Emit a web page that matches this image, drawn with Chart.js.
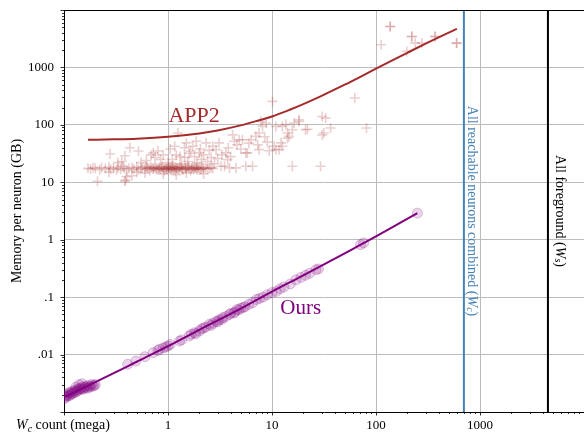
<!DOCTYPE html>
<html><head><meta charset="utf-8">
<script src="https://cdn.jsdelivr.net/npm/chart.js@4/dist/chart.umd.min.js"></script>
<style>html,body{margin:0;padding:0;background:#fff;overflow:hidden}#wrap{width:584px;height:434px;position:relative}</style>
</head><body><div id="wrap"><canvas id="c"></canvas></div>
<script>
// ---- axis ranges and ticks ----
const xMin = 0.1, xMax = 10000, yMin = 0.001, yMax = 10000;
const xTickValues = [1, 10, 100, 1000];
const xTickLabels = ['1', '10', '100', '1000'];
const yTickValues = [0.01, 0.1, 1, 10, 100, 1000];
const yTickLabels = ['.01', '.1', '1', '10', '100', '1000'];

// ---- reference lines ----
const reachableWc = 700;   // all reachable neurons combined (W_c)
const foregroundWs = 4500; // all foreground (W_s)

// ---- APP2 measurements (crosses) ----
const app2X = [
 0.17,0.18,0.19,0.2,0.22,0.23,0.25,0.27,0.28,0.3,0.32,0.33,0.35,0.37,0.38,0.4,0.42,0.45,0.47,0.5,
 0.52,0.55,0.57,0.6,0.62,0.65,0.67,0.7,0.72,0.75,0.78,0.8,0.82,0.85,0.88,0.9,0.92,0.95,0.97,1.0,
 1.02,1.05,1.08,1.1,1.12,1.15,1.18,1.2,1.25,1.3,1.35,1.4,1.45,1.5,1.55,1.6,1.65,1.7,1.75,1.8,
 1.85,1.9,2.0,2.1,2.2,2.3,2.4,2.5,2.6,2.7,
 0.63,0.68,0.73,0.77,0.83,0.87,0.93,0.98,1.03,1.07,1.13,1.17,1.22,1.28,1.33,1.38,1.48,1.58,1.68,1.78,
 1.88,1.95,2.05,2.15,
 0.21,0.385,0.39,0.4,0.45,0.6,0.9,1.2,1.5,2.2,0.27,0.5,
 0.277,0.33,0.36,0.385,0.43,0.52,0.55,0.62,0.69,0.72,0.75,0.8,0.85,0.9,1.0,1.05,1.16,1.25,1.3,1.44,
 1.5,1.6,1.73,1.87,2.0,2.1,2.33,2.5,2.7,2.9,3.1,3.24,3.5,3.6,3.75,3.9,4.18,4.35,4.5,4.85,
 5.2,5.6,5.6,5.8,6.5,7.0,7.3,7.5,7.5,7.8,8.1,8.8,9.4,10.1,10.5,10.9,10.9,11.7,12.2,12.6,
 12.6,13.6,14.1,14.1,14.6,15.7,15.7,16.3,18.2,18.2,21,21.9,29.3,30.4,30.4,31.5,32.8,36.6,62.5,81,
 112,137,137,198,221,221,238,276,370,370,596,596,
 1.1,1.2,1.35,1.45,1.55,1.65,1.8,1.9,2.05,2.2,2.4,2.6,2.8,3.0,3.3,3.8,4.0,4.6,5.0,6.0,6.3,8.5,9.0
];
const app2Y = [
 17.5,17,18,17.5,16.5,18,17.5,18.5,17,17.5,16.5,18,17,19,17.5,16,17.5,18,17,18.5,
 16.5,17.5,18,17,19,17.5,16,18,17,18.5,17.5,16.5,18,17,19,17.5,16,18,17,18.5,
 17.5,16.5,18,17,19,17.5,16,18,17,18.5,17.5,16.5,18,17,19,17.5,16,18,17,18.5,
 17.5,16.5,18,17,17.5,18,17,17.5,18,17.5,
 17.8,18.2,17.3,16.8,17.6,18.3,17.2,16.9,18.1,17.4,16.7,18.4,17.6,17.1,18.2,16.8,17.7,18.3,17.2,16.9,
 18.0,17.4,16.8,18.2,
 10.4,10.4,10.9,12.5,13,14.5,14,13.5,14.5,14,15,15,
 31,22,23,29,40,35,22,24,30,32.5,27,35,25,30,22,38,42.5,72,28,40,
 48.6,32,42.5,51.8,32.5,25,48.6,36,42.5,37,48.6,19,19,32.5,24.8,17.8,67,51.8,17.8,55,
 55,32.5,19,32.5,19,63,45,37,72,115,94,108,35.5,256,42.5,94,37,37,48.6,94,
 42.5,101,72,58.7,63,82,19,108,115,123,82,84,19,67,140,72,131,88,294,88,
 2480,5160,5160,1900,3460,3460,2650,2650,3460,3460,2650,2650,
 25,30,21,27,23,35,28,22,38,30,23,27,21,26,30,40,28,45,38,48,55,62,50
];
// APP2 trend line
const app2LineX = [0.17,0.3,0.5,1,2,3,5,7,10,15,20,30,50,70,100,150,200,300,450,600];
const app2LineY = [55,56,57.5,62,71,80,98,116,140,185,230,320,500,680,950,1380,1800,2600,3700,4700];

// ---- Ours measurements (circles) ----
const oursX = [
 0.1,0.102,0.104,0.106,0.108,0.11,0.112,0.114,0.116,0.118,0.12,0.122,0.125,0.128,0.13,0.133,0.136,0.14,0.143,0.146,
 0.15,0.153,0.156,0.16,0.164,0.168,0.172,0.176,0.18,0.185,0.19,0.195,0.2,0.14,0.15,0.13,
 0.41,0.49,0.6,0.72,0.8,0.83,0.9,0.95,1.0,1.05,1.29,1.35,1.6,1.67,1.8,2.0,2.1,2.3,2.5,2.7,
 2.9,3.1,3.36,3.6,3.9,4.3,4.6,4.8,5.0,5.3,1.85,2.2,2.6,3.0,3.3,4.0,4.4,
 5.5,6.0,6.5,7.1,7.6,8.2,9.0,10,11,12,13,15,17,19,21,23,26.5,28,71,76,250
];
const oursY = [
 0.0017,0.0019,0.0018,0.0020,0.0019,0.0021,0.0019,0.0022,0.0020,0.0021,0.0023,0.0021,0.0022,0.0024,0.0022,0.0023,0.0025,0.0024,0.0026,0.0025,
 0.0027,0.0025,0.0026,0.0028,0.0027,0.0026,0.0029,0.0027,0.0028,0.0030,0.0028,0.0029,0.0030,0.0030,0.0031,0.0027,
 0.0068,0.0077,0.0092,0.0108,0.0118,0.0124,0.013,0.0135,0.0141,0.015,0.0172,0.018,0.021,0.0225,0.024,0.0257,0.028,0.03,0.0336,0.035,
 0.038,0.04,0.044,0.046,0.05,0.053,0.061,0.06,0.064,0.066,0.023,0.029,0.032,0.037,0.041,0.052,0.055,
 0.068,0.075,0.08,0.091,0.095,0.1,0.11,0.12,0.126,0.14,0.15,0.17,0.2,0.22,0.24,0.26,0.3,0.31,0.82,0.88,2.9
];
// Ours trend line
const oursLineX = [0.1,0.2,0.5,1,2,5,10,20,50,100,250];
const oursLineY = [0.0018,0.0033,0.0075,0.014,0.027,0.063,0.125,0.24,0.58,1.14,2.9];

const zip = (xs, ys) => xs.map((x, i) => ({x: x, y: ys[i]}));
const SERIF = '"Liberation Serif", "DejaVu Serif", serif';

function drawRich(ctx, parts, x, y, align) {
  let total = 0;
  parts.forEach(p => { ctx.font = (p.italic ? 'italic ' : '') + p.size + 'px ' + SERIF; p.w = ctx.measureText(p.t).width; total += p.w; });
  let cx = align === 'center' ? x - total / 2 : x;
  parts.forEach(p => {
    ctx.font = (p.italic ? 'italic ' : '') + p.size + 'px ' + SERIF;
    ctx.fillText(p.t, cx, y + (p.dy || 0));
    cx += p.w;
  });
}

const decor = {
  id: 'decor',
  afterDraw(chart) {
    const ctx = chart.ctx, a = chart.chartArea;
    const xs = chart.scales.x, ys = chart.scales.y;
    ctx.save();
    // top spine
    ctx.strokeStyle = '#000'; ctx.lineWidth = 1;
    ctx.beginPath(); ctx.moveTo(a.left, a.top + 0.5); ctx.lineTo(a.right, a.top + 0.5); ctx.stroke();
    // tick marks (major + minor), outward
    ctx.lineWidth = 0.8; ctx.strokeStyle = '#000';
    for (let e = -1; e <= 4; e++) {
      for (let k = 1; k <= 9; k++) {
        const v = k * Math.pow(10, e);
        if (v < xMin * 0.999 || v > xMax * 1.001) continue;
        const px = Math.round(xs.getPixelForValue(v)) + 0.5;
        const len = k === 1 ? 3.5 : 2;
        ctx.beginPath(); ctx.moveTo(px, a.bottom); ctx.lineTo(px, a.bottom + len); ctx.stroke();
      }
    }
    for (let e = -3; e <= 4; e++) {
      for (let k = 1; k <= 9; k++) {
        const v = k * Math.pow(10, e);
        if (v < yMin * 0.999 || v > yMax * 1.001) continue;
        const py = Math.round(ys.getPixelForValue(v)) + 0.5;
        const len = k === 1 ? 3.5 : 2;
        ctx.beginPath(); ctx.moveTo(a.left, py); ctx.lineTo(a.left - len, py); ctx.stroke();
      }
    }
    // x axis title at the left of the tick-label row
    ctx.fillStyle = '#000'; ctx.textAlign = 'left'; ctx.textBaseline = 'alphabetic';
    drawRich(ctx, [
      {t: 'W', italic: true, size: 14},
      {t: 'c', italic: true, size: 10, dy: 2.5},
      {t: ' count (mega)', size: 14}
    ], 16, 429, 'left');
    // series labels
    ctx.fillStyle = '#a52a2a'; ctx.font = '22px ' + SERIF;
    ctx.fillText('APP2', xs.getPixelForValue(1.01), ys.getPixelForValue(110));
    ctx.fillStyle = '#800080'; ctx.font = '21px ' + SERIF;
    ctx.fillText('Ours', xs.getPixelForValue(12), ys.getPixelForValue(0.05));
    // vertical annotations
    const midY = (a.top + a.bottom) / 2;
    ctx.textBaseline = 'middle';
    ctx.save();
    ctx.translate(xs.getPixelForValue(reachableWc) + 8, midY);
    ctx.rotate(Math.PI / 2);
    ctx.fillStyle = '#4682b4';
    drawRich(ctx, [
      {t: 'All reachable neurons combined (', size: 14},
      {t: 'W', italic: true, size: 14},
      {t: 'c', italic: true, size: 10, dy: 2.5},
      {t: ')', size: 14}
    ], 0, 0, 'center');
    ctx.restore();
    ctx.save();
    ctx.translate(xs.getPixelForValue(foregroundWs) + 12, midY);
    ctx.rotate(Math.PI / 2);
    ctx.fillStyle = '#000';
    drawRich(ctx, [
      {t: 'All foreground (', size: 14},
      {t: 'W', italic: true, size: 14},
      {t: 's', italic: true, size: 10, dy: 2.5},
      {t: ')', size: 14}
    ], 0, 0, 'center');
    ctx.restore();
    ctx.restore();
  }
};

new Chart(document.getElementById('c'), {
  type: 'scatter',
  data: {
    datasets: [
      {type: 'line', label: 'W_c', data: [{x: reachableWc, y: yMin}, {x: reachableWc, y: yMax}],
       borderColor: '#4682b4', borderWidth: 2, pointRadius: 0, showLine: true},
      {type: 'line', label: 'W_s', data: [{x: foregroundWs, y: yMin}, {x: foregroundWs, y: yMax}],
       borderColor: '#000000', borderWidth: 2, pointRadius: 0, showLine: true},
      {type: 'line', label: 'APP2 fit', data: zip(app2LineX, app2LineY),
       borderColor: '#a52a2a', borderWidth: 2, pointRadius: 0, showLine: true, cubicInterpolationMode: 'monotone'},
      {type: 'line', label: 'Ours fit', data: zip(oursLineX, oursLineY),
       borderColor: '#800080', borderWidth: 2, pointRadius: 0, showLine: true, cubicInterpolationMode: 'monotone'},
      {label: 'Ours', data: zip(oursX, oursY), pointStyle: 'circle', pointRadius: 5,
       backgroundColor: 'rgba(128,0,128,0.17)', borderColor: 'rgba(128,0,128,0.22)', borderWidth: 1},
      {label: 'APP2', data: zip(app2X, app2Y), pointStyle: 'cross', pointRadius: 5,
       borderColor: 'rgba(165,42,42,0.22)', borderWidth: 1.6}
    ]
  },
  options: {
    responsive: true, maintainAspectRatio: false, animation: false,
    layout: {autoPadding: false, padding: {top: 10, right: -2, bottom: 0, left: 0}},
    plugins: {legend: {display: false}, tooltip: {enabled: false}},
    elements: {line: {tension: 0}},
    scales: {
      x: {
        type: 'logarithmic', min: xMin, max: xMax, position: 'bottom',
        afterBuildTicks: s => { s.ticks = xTickValues.map(v => ({value: v})); },
        afterFit: s => { s.height = 22; s.paddingLeft = 0; s.paddingRight = 0; s.paddingTop = 0; s.paddingBottom = 0; },
        ticks: {
          callback: v => { const i = xTickValues.indexOf(v); return i >= 0 ? xTickLabels[i] : ''; },
          font: {family: SERIF, size: 13}, color: '#000', padding: 6, maxRotation: 0, autoSkip: false
        },
        grid: {drawTicks: false, color: '#bcbcbc', lineWidth: 1},
        border: {display: true, color: '#000', width: 1}
      },
      y: {
        type: 'logarithmic', min: yMin, max: yMax, position: 'left',
        afterBuildTicks: s => { s.ticks = yTickValues.map(v => ({value: v})); },
        afterFit: s => { s.width = 64; s.paddingLeft = 0; s.paddingRight = 0; s.paddingTop = 0; s.paddingBottom = 0; },
        ticks: {
          callback: v => { const i = yTickValues.indexOf(v); return i >= 0 ? yTickLabels[i] : ''; },
          font: {family: SERIF, size: 13}, color: '#000', padding: 10, autoSkip: false
        },
        grid: {drawTicks: false, color: '#bcbcbc', lineWidth: 1},
        border: {display: true, color: '#000', width: 1},
        title: {display: true, text: 'Memory per neuron (GB)', font: {family: SERIF, size: 14}, color: '#000', padding: {top: 9, bottom: 0}}
      }
    }
  },
  plugins: [decor]
});
</script>
</body></html>
